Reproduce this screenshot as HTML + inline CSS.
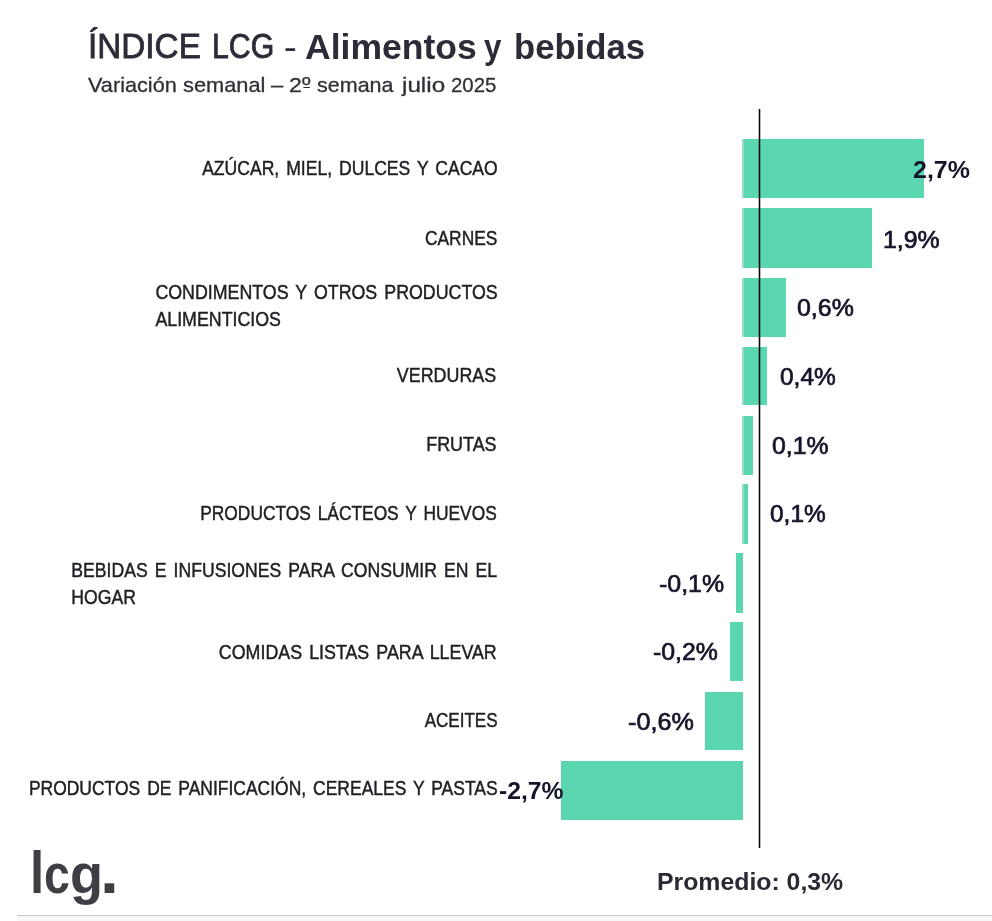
<!DOCTYPE html>
<html lang="es">
<head>
<meta charset="utf-8">
<title>ÍNDICE LCG - Alimentos y bebidas</title>
<style>
html,body{margin:0;padding:0;background:#fff;}
body{width:992px;height:921px;position:relative;overflow:hidden;font-family:"Liberation Sans", sans-serif;}
.t{position:absolute;white-space:nowrap;margin:0;padding:0;text-align:left;}
.bar{position:absolute;background:#5ad7b1;}
.bar.pos{background:linear-gradient(90deg,#a2dccb 0,#8fdcc4 1.9px,#5ad7b1 2.6px);}
.avg{position:absolute;background:linear-gradient(90deg,rgba(0,0,0,.28) 0,rgba(0,0,0,.28) 1px,#050505 1px,#050505 2px,rgba(0,0,0,.28) 2px,rgba(0,0,0,.28) 3px);}
.ord{background:linear-gradient(currentColor,currentColor) no-repeat 50% 14.7px/86% 1.3px;}
.rule{position:absolute;left:17px;right:0;top:914.8px;height:1.5px;background:#c6c6c6;}
.foot{position:absolute;left:17px;right:0;top:916.3px;bottom:0;background:#f8f8f8;}

#t1a{top:28.60px;font-size:34.5px;line-height:34.5px;font-weight:400;color:#2c2c38;left:87.98px;transform-origin:0 0;transform:scaleX(0.9652);-webkit-text-stroke:0.8px #2c2c38;}
#t1c{top:28.60px;font-size:34.5px;line-height:34.5px;font-weight:400;color:#2c2c38;left:211.51px;transform-origin:0 0;transform:scaleX(0.8776);-webkit-text-stroke:0.8px #2c2c38;}
#t1d{top:29.60px;font-size:34.5px;line-height:34.5px;font-weight:400;color:#2c2c38;left:283.66px;transform-origin:0 0;transform:scaleX(1.1053);-webkit-text-stroke:0.2px #2c2c38;}
#t1b{top:29.60px;font-size:34.5px;line-height:34.5px;font-weight:700;color:#2c2c38;left:304.58px;transform-origin:0 0;transform:scaleX(1.0302);}
#t1e{top:29.60px;font-size:34.5px;line-height:34.5px;font-weight:700;color:#2c2c38;left:483.94px;transform-origin:0 0;transform:scaleX(0.9081);}
#t1f{top:29.60px;font-size:34.5px;line-height:34.5px;font-weight:700;color:#2c2c38;left:513.9px;transform-origin:0 0;transform:scaleX(1.0046);}
#s0{top:73.52px;font-size:21px;line-height:21px;font-weight:400;color:#303038;left:87.93px;transform-origin:0 0;transform:scaleX(1.0328);-webkit-text-stroke:0.3px #303038;}
#s1{top:73.52px;font-size:21px;line-height:21px;font-weight:400;color:#303038;left:183.14px;transform-origin:0 0;transform:scaleX(1.0387);-webkit-text-stroke:0.3px #303038;}
#s2{top:73.52px;font-size:21px;line-height:21px;font-weight:400;color:#303038;left:270.82px;transform-origin:0 0;transform:scaleX(1.043);-webkit-text-stroke:0.3px #303038;}
#s3{top:73.52px;font-size:21px;line-height:21px;font-weight:400;color:#303038;left:288.85px;transform-origin:0 0;transform:scaleX(1.1047);-webkit-text-stroke:0.3px #303038;}
#s4{top:73.52px;font-size:21px;line-height:21px;font-weight:400;color:#303038;left:317.31px;transform-origin:0 0;transform:scaleX(1.0246);-webkit-text-stroke:0.3px #303038;}
#s5{top:73.52px;font-size:21px;line-height:21px;font-weight:400;color:#303038;left:401.55px;transform-origin:0 0;transform:scaleX(1.1543);-webkit-text-stroke:0.3px #303038;}
#s6{top:73.52px;font-size:21px;line-height:21px;font-weight:400;color:#303038;left:450.95px;transform-origin:0 0;transform:scaleX(0.9719);-webkit-text-stroke:0.3px #303038;}
#l0{top:154.97px;font-size:20px;line-height:27px;font-weight:400;color:#202026;right:494.70px;transform-origin:100% 0;transform:scaleX(0.8778);-webkit-text-stroke:0.45px #202026;word-spacing:2.4px;}
#l1{top:224.97px;font-size:20px;line-height:27px;font-weight:400;color:#202026;right:494.88px;transform-origin:100% 0;transform:scaleX(0.8682);-webkit-text-stroke:0.45px #202026;word-spacing:2.4px;}
#l2{top:278.77px;font-size:20px;line-height:27px;font-weight:400;color:#202026;right:494.60px;transform-origin:100% 0;transform:scaleX(0.8898);-webkit-text-stroke:0.45px #202026;word-spacing:2.4px;}
#l3{top:362.47px;font-size:20px;line-height:27px;font-weight:400;color:#202026;right:495.46px;transform-origin:100% 0;transform:scaleX(0.8935);-webkit-text-stroke:0.45px #202026;word-spacing:2.4px;}
#l4{top:431.37px;font-size:20px;line-height:27px;font-weight:400;color:#202026;right:495.06px;transform-origin:100% 0;transform:scaleX(0.8954);-webkit-text-stroke:0.45px #202026;word-spacing:2.4px;}
#l5{top:499.67px;font-size:20px;line-height:27px;font-weight:400;color:#202026;right:495.50px;transform-origin:100% 0;transform:scaleX(0.8676);-webkit-text-stroke:0.45px #202026;word-spacing:2.4px;}
#l6{top:557.27px;font-size:20px;line-height:27px;font-weight:400;color:#202026;right:495.03px;transform-origin:100% 0;transform:scaleX(0.8813);-webkit-text-stroke:0.45px #202026;word-spacing:2.4px;}
#l7{top:638.87px;font-size:20px;line-height:27px;font-weight:400;color:#202026;right:495.32px;transform-origin:100% 0;transform:scaleX(0.8914);-webkit-text-stroke:0.45px #202026;word-spacing:2.4px;}
#l8{top:706.57px;font-size:20px;line-height:27px;font-weight:400;color:#202026;right:494.64px;transform-origin:100% 0;transform:scaleX(0.8519);-webkit-text-stroke:0.45px #202026;word-spacing:2.4px;}
#l9{top:774.97px;font-size:20px;line-height:27px;font-weight:400;color:#202026;right:494.67px;transform-origin:100% 0;transform:scaleX(0.8735);-webkit-text-stroke:0.45px #202026;word-spacing:2.4px;}
#v0{top:157.66px;font-size:24.5px;line-height:24.5px;font-weight:700;color:#15152a;left:912.56px;transform-origin:0 0;transform:scaleX(1.02);}
#v1{top:227.96px;font-size:24.5px;line-height:24.5px;font-weight:400;color:#15152a;left:883.08px;transform-origin:0 0;transform:scaleX(1.0166);-webkit-text-stroke:0.7px #15152a;}
#v2{top:295.86px;font-size:24.5px;line-height:24.5px;font-weight:400;color:#15152a;left:797.47px;transform-origin:0 0;transform:scaleX(1.0173);-webkit-text-stroke:0.7px #15152a;}
#v3{top:364.86px;font-size:24.5px;line-height:24.5px;font-weight:400;color:#15152a;left:779.53px;transform-origin:0 0;transform:scaleX(0.9994);-webkit-text-stroke:0.7px #15152a;}
#v4{top:434.16px;font-size:24.5px;line-height:24.5px;font-weight:400;color:#15152a;left:772.47px;transform-origin:0 0;transform:scaleX(1.0103);-webkit-text-stroke:0.7px #15152a;}
#v5{top:501.86px;font-size:24.5px;line-height:24.5px;font-weight:400;color:#15152a;left:769.53px;transform-origin:0 0;transform:scaleX(0.9973);-webkit-text-stroke:0.7px #15152a;}
#v6{top:572.36px;font-size:24.5px;line-height:24.5px;font-weight:400;color:#15152a;left:659.46px;transform-origin:0 0;transform:scaleX(1.0174);-webkit-text-stroke:0.7px #15152a;}
#v7{top:640.46px;font-size:24.5px;line-height:24.5px;font-weight:400;color:#15152a;left:652.97px;transform-origin:0 0;transform:scaleX(1.0134);-webkit-text-stroke:0.7px #15152a;}
#v8{top:710.16px;font-size:24.5px;line-height:24.5px;font-weight:400;color:#15152a;left:627.94px;transform-origin:0 0;transform:scaleX(1.0275);-webkit-text-stroke:0.7px #15152a;}
#v9{top:779.26px;font-size:24.5px;line-height:24.5px;font-weight:700;color:#15152a;left:498.5px;transform-origin:0 0;transform:scaleX(1.0079);}
#avg{top:870.45px;font-size:24.4px;line-height:24.4px;font-weight:700;color:#2a2a35;left:657.04px;transform-origin:0 0;transform:scaleX(1.0173);}
#lg1{top:842.78px;font-size:59.8px;line-height:59.8px;font-weight:700;color:#3e3f45;left:30.0px;transform-origin:0 0;transform:scaleX(0.8526);}
#lg2{top:846.59px;font-size:55.3px;line-height:55.3px;font-weight:700;color:#3e3f45;left:44.11px;transform-origin:0 0;transform:scaleX(0.841);}
#lg3{top:846.59px;font-size:55.3px;line-height:55.3px;font-weight:700;color:#3e3f45;left:69.85px;transform-origin:0 0;transform:scaleX(0.979);}
#lg4{top:839.22px;font-size:64px;line-height:64px;font-weight:700;color:#3e3f45;left:100.26px;transform-origin:0 0;transform:scaleX(1.0619);}
#b0{left:742.0px;top:138.5px;width:181.90px;height:59.80px;}
#b1{left:742.0px;top:208.1px;width:129.50px;height:59.90px;}
#b2{left:742.0px;top:277.5px;width:43.60px;height:59.80px;}
#b3{left:742.0px;top:346.9px;width:24.50px;height:58.30px;}
#b4{left:742.0px;top:416.0px;width:11.40px;height:58.80px;}
#b5{left:742.0px;top:484.0px;width:6.30px;height:59.90px;}
#b6{left:735.6px;top:553.0px;width:7.20px;height:60.00px;}
#b7{left:730.0px;top:622.2px;width:12.80px;height:58.60px;}
#b8{left:704.7px;top:691.5px;width:38.10px;height:58.70px;}
#b9{left:560.8px;top:760.7px;width:182.00px;height:59.00px;}
</style>
</head>
<body>
<div class="foot"></div><div class="rule"></div>
<div class="bar pos" id="b0"></div>
<div class="bar pos" id="b1"></div>
<div class="bar pos" id="b2"></div>
<div class="bar pos" id="b3"></div>
<div class="bar pos" id="b4"></div>
<div class="bar pos" id="b5"></div>
<div class="bar" id="b6"></div>
<div class="bar" id="b7"></div>
<div class="bar" id="b8"></div>
<div class="bar" id="b9"></div>
<div class="avg" style="left:758px;top:109px;width:3px;height:739px"></div>
<h1 style="margin:0;font:inherit">
<span class="t" id="t1a">ÍNDICE</span>
<span class="t" id="t1c">LCG</span>
<span class="t" id="t1d">-</span>
<span class="t" id="t1b">Alimentos</span>
<span class="t" id="t1e">y</span>
<span class="t" id="t1f">bebidas</span>
</h1>
<p style="margin:0;font:inherit">
<span class="t" id="s0">Variación</span>
<span class="t" id="s1">semanal</span>
<span class="t" id="s2">–</span>
<span class="t" id="s3">2<span class="ord">º</span></span>
<span class="t" id="s4">semana</span>
<span class="t" id="s5">julio</span>
<span class="t" id="s6">2025</span>
</p>
<div class="t" id="l0">AZÚCAR, MIEL, DULCES Y CACAO</div>
<div class="t" id="l1">CARNES</div>
<div class="t" id="l2">CONDIMENTOS Y OTROS PRODUCTOS<br>ALIMENTICIOS</div>
<div class="t" id="l3">VERDURAS</div>
<div class="t" id="l4">FRUTAS</div>
<div class="t" id="l5">PRODUCTOS LÁCTEOS Y HUEVOS</div>
<div class="t" id="l6">BEBIDAS E INFUSIONES PARA CONSUMIR EN EL<br>HOGAR</div>
<div class="t" id="l7">COMIDAS LISTAS PARA LLEVAR</div>
<div class="t" id="l8">ACEITES</div>
<div class="t" id="l9">PRODUCTOS DE PANIFICACIÓN, CEREALES Y PASTAS</div>
<div class="t" id="v0">2,7%</div>
<div class="t" id="v1">1,9%</div>
<div class="t" id="v2">0,6%</div>
<div class="t" id="v3">0,4%</div>
<div class="t" id="v4">0,1%</div>
<div class="t" id="v5">0,1%</div>
<div class="t" id="v6">-0,1%</div>
<div class="t" id="v7">-0,2%</div>
<div class="t" id="v8">-0,6%</div>
<div class="t" id="v9">-2,7%</div>
<div class="t" id="avg">Promedio: 0,3%</div>
<div style="margin:0;font:inherit">
<span class="t" id="lg1">l</span><span class="t" id="lg2">c</span><span class="t" id="lg3">g</span><span class="t" id="lg4">.</span>
</div>
</body>
</html>
